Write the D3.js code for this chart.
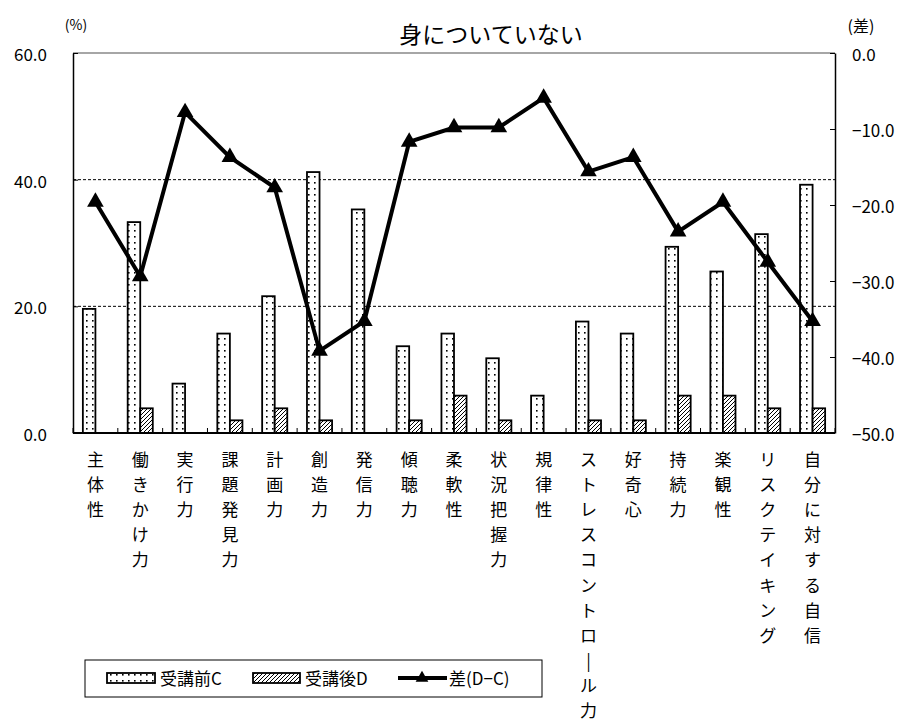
<!DOCTYPE html>
<html><head><meta charset="utf-8">
<script src="https://cdn.jsdelivr.net/npm/d3@7/dist/d3.min.js"></script>
<style>
html,body{margin:0;padding:0;background:#fff;}
text{font-family:"Noto Sans CJK JP","Noto Sans",sans-serif;fill:#000;}
</style></head>
<body>
<svg id="chart" width="904" height="722"></svg>
<script>
const categories = ["主体性","働きかけ力","実行力","課題発見力","計画力","創造力","発信力","傾聴力","柔軟性","状況把握力","規律性","ストレスコントロール力","好奇心","持続力","楽観性","リスクテイキング","自分に対する自信"];
const beforeC = [19.6, 33.3, 7.8, 15.7, 21.6, 41.2, 35.3, 13.7, 15.7, 11.8, 5.9, 17.6, 15.7, 29.4, 25.5, 31.4, 39.2];
const afterD  = [0, 3.9, 0, 2.0, 3.9, 2.0, 0, 2.0, 5.9, 2.0, 0, 2.0, 2.0, 5.9, 5.9, 3.9, 3.9];
const diffDC  = [-19.6, -29.4, -7.8, -13.7, -17.7, -39.2, -35.3, -11.7, -9.8, -9.8, -5.9, -15.6, -13.7, -23.5, -19.6, -27.5, -35.3];
const leftTicks = [0, 20, 40, 60];
const rightTicks = [0, -10, -20, -30, -40, -50];
const gridTicks = [20, 40];
const seriesNames = ["受講前C", "受講後D", "差(D−C)"];
const title = "身についていない";

const svg = d3.select("#chart");
const L = 73, R = 835, T = 53, B = 433;

const defs = svg.append("defs");
const pd = defs.append("pattern").attr("id","dots").attr("patternUnits","userSpaceOnUse")
  .attr("width",6).attr("height",6);
pd.append("rect").attr("width",6).attr("height",6).attr("fill","#fff");
pd.append("rect").attr("x",2).attr("y",2).attr("width",1.6).attr("height",1.6).attr("fill","#000");
const ph = defs.append("pattern").attr("id","hatch").attr("patternUnits","userSpaceOnUse")
  .attr("width",4).attr("height",4);
ph.append("rect").attr("width",4).attr("height",4).attr("fill","#fff");
ph.append("path").attr("d","M-1,1 l2,-2 M0,4 l4,-4 M3,5 l2,-2").attr("stroke","#000").attr("stroke-width",1);

const x = d3.scaleBand().domain(categories).range([L, R]).paddingInner(0.44).paddingOuter(0.22);
const xs = d3.scaleBand().domain(["C","D"]).range([0, x.bandwidth()]);
const y = d3.scaleLinear().domain([0, 60]).range([B, T]);
const y2 = d3.scaleLinear().domain([-50, 0]).range([B, T]);
const step = x.step();
const cx = c => x(c) + x.bandwidth()/2;

// gridlines
svg.append("g").selectAll("line").data(gridTicks).join("line")
  .attr("x1", L).attr("x2", R).attr("y1", d => y(d)).attr("y2", d => y(d))
  .attr("stroke","#000").attr("stroke-width",1).attr("stroke-dasharray","3,2");

// frame top
svg.append("line").attr("x1",L).attr("x2",R).attr("y1",T).attr("y2",T).attr("stroke","#888").attr("stroke-width",1.5);

// bars
const bars = svg.append("g");
categories.forEach((c, i) => {
  [["C", beforeC[i], "url(#dots)"], ["D", afterD[i], "url(#hatch)"]].forEach(([k, v, f]) => {
    if (v <= 0) return;
    bars.append("rect")
      .attr("x", x(c) + xs(k)).attr("width", xs.bandwidth())
      .attr("y", y(v)).attr("height", y(0) - y(v))
      .attr("fill", f).attr("stroke", "#000").attr("stroke-width", 1.8);
  });
});

// axes
const gl = svg.append("g").attr("transform", `translate(${L},0)`)
  .call(d3.axisLeft(y).tickValues(leftTicks).tickFormat(d3.format(".1f")).tickSizeInner(-5).tickSizeOuter(0).tickPadding(26));
gl.select(".domain").attr("stroke","#000").attr("stroke-width",1.5);
gl.selectAll("text").attr("font-size",17).attr("dy","0.45em").attr("font-family","Liberation Sans, sans-serif");

const gr = svg.append("g").attr("transform", `translate(${R},0)`)
  .call(d3.axisRight(y2).tickValues(rightTicks).tickFormat(d3.format(".1f")).tickSizeInner(-5).tickSizeOuter(0).tickPadding(17));
gr.select(".domain").attr("stroke","#000").attr("stroke-width",1.5);
gr.selectAll("text").attr("font-size",17).attr("dy","0.45em").attr("font-family","Liberation Sans, sans-serif");

// bottom axis
svg.append("line").attr("x1",L).attr("x2",R).attr("y1",B).attr("y2",B).attr("stroke","#000").attr("stroke-width",1.8);
svg.append("g").selectAll("line").data(d3.range(categories.length + 1)).join("line")
  .attr("x1", i => L + i*step).attr("x2", i => L + i*step)
  .attr("y1", B).attr("y2", B - 5).attr("stroke","#000").attr("stroke-width",1);

// category labels vertical
const lab = svg.append("g");
categories.forEach(c => {
  const t = lab.append("text").attr("text-anchor","middle").attr("font-size",17);
  Array.from(c).forEach((ch, j) => {
    t.append("tspan").attr("x", cx(c)).attr("y", 466 + j*25.1).text(ch === "ー" ? "|" : ch);
  });
});

// line
const line = d3.line().x((d,i) => cx(categories[i])).y(d => y2(d));
svg.append("path").datum(diffDC).attr("d", line).attr("fill","none")
  .attr("stroke","#000").attr("stroke-width",4).attr("stroke-linejoin","miter");
const tri = d3.symbol().type(d3.symbolTriangle).size(120);
svg.append("g").selectAll("path").data(diffDC).join("path")
  .attr("d", tri).attr("transform", (d,i) => `translate(${cx(categories[i])},${y2(d)})`).attr("fill","#000");

// titles
svg.append("text").attr("x", 491).attr("y", 43).attr("text-anchor","middle").attr("font-size",23).text(title);
svg.append("text").attr("x", 76).attr("y", 30).attr("text-anchor","middle").attr("font-size",14).text("(%)");
svg.append("text").attr("x", 861).attr("y", 32).attr("text-anchor","middle").attr("font-size",16).text("(差)");

// legend
const lg = svg.append("g");
lg.append("rect").attr("x",85).attr("y",660).attr("width",457).attr("height",37).attr("fill","#fff").attr("stroke","#000").attr("stroke-width",1);
lg.append("rect").attr("x",107).attr("y",673).attr("width",48).attr("height",10).attr("fill","url(#dots)").attr("stroke","#000").attr("stroke-width",1.8);
lg.append("text").attr("x",160).attr("y",685).attr("font-size",17).text(seriesNames[0]);
lg.append("rect").attr("x",253).attr("y",673).attr("width",47).attr("height",10).attr("fill","url(#hatch)").attr("stroke","#000").attr("stroke-width",1.8);
lg.append("text").attr("x",305).attr("y",685).attr("font-size",17).text(seriesNames[1]);
lg.append("line").attr("x1",398).attr("x2",447).attr("y1",678).attr("y2",678).attr("stroke","#000").attr("stroke-width",4);
lg.append("path").attr("d", d3.symbol().type(d3.symbolTriangle).size(70)).attr("transform","translate(422,678)").attr("fill","#000");
lg.append("text").attr("x",449).attr("y",685).attr("font-size",17).text(seriesNames[2]);
</script>
</body></html>
